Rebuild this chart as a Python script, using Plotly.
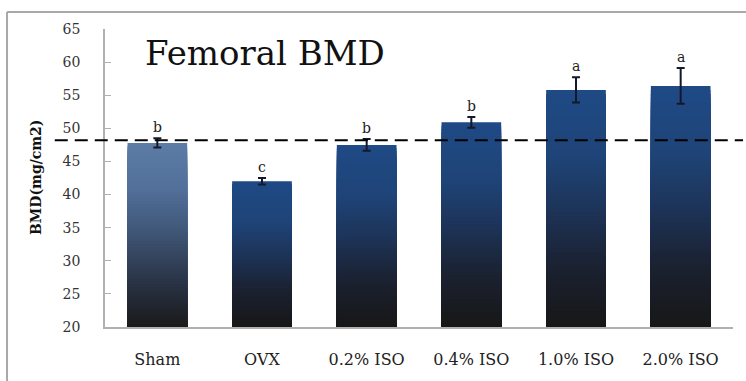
import plotly.graph_objects as go

categories = ["Sham", "OVX", "0.2% ISO", "0.4% ISO", "1.0% ISO", "2.0% ISO"]
bmd_values = [47.8, 42.0, 47.5, 50.9, 55.8, 56.4]
bmd_errors = [0.7, 0.5, 0.9, 0.8, 1.9, 2.7]
sig_letters = ["b", "c", "b", "b", "a", "a"]
reference_level = 48.2
y_ticks = [20, 25, 30, 35, 40, 45, 50, 55, 60, 65]

# gradient stops (fraction from bottom of bar, rgb)
sham_stops = [(0.0, (26, 26, 26)), (0.25, (42, 52, 70)), (0.5, (62, 84, 116)),
              (0.75, (82, 112, 154)), (1.0, (92, 123, 165))]
ovx_stops = [(0.0, (23, 23, 23)), (0.25, (27, 33, 48)), (0.5, (29, 52, 89)),
             (0.72, (31, 68, 120)), (1.0, (31, 74, 133))]
bar_stops = [sham_stops] + [ovx_stops] * 5

def interp(stops, f):
    for (f0, c0), (f1, c1) in zip(stops[:-1], stops[1:]):
        if f <= f1:
            t = (f - f0) / (f1 - f0) if f1 > f0 else 0
            return "rgb(%d,%d,%d)" % tuple(round(a + (b - a) * t) for a, b in zip(c0, c1))
    return "rgb(%d,%d,%d)" % stops[-1][1]

base = y_ticks[0]
N = 60
fig = go.Figure()
for k in range(N):
    f = 1 - k / N
    ys = [base + (v - base) * f for v in bmd_values]
    cols = [interp(st, f - 0.5 / N) for st in bar_stops]
    fig.add_trace(go.Bar(x=categories, y=ys, marker=dict(color=cols, line=dict(width=0)),
                         showlegend=False, hoverinfo="skip"))

fig.add_trace(go.Scatter(
    x=categories, y=bmd_values, mode="markers", marker=dict(opacity=0),
    error_y=dict(type="data", array=bmd_errors, color="#15182a", thickness=2, width=4),
    showlegend=False, hoverinfo="skip"))

for c, v, e, s in zip(categories, bmd_values, bmd_errors, sig_letters):
    fig.add_annotation(x=c, y=v + e, text=s, showarrow=False, yanchor="bottom", yshift=1,
                       font=dict(family="DejaVu Serif", size=14, color="#222"))

# dashed reference line
fig.add_shape(type="line", xref="paper", yref="y", x0=-0.08, x1=1.016,
              y0=reference_level, y1=reference_level,
              line=dict(color="black", width=2, dash="13px,7px"))

# outer frame (top and left edges)
fig.add_shape(type="line", xref="paper", yref="paper", x0=-0.156, x1=1.05, y0=1.057, y1=1.057,
              line=dict(color="#a8a8a8", width=2))
fig.add_shape(type="line", xref="paper", yref="paper", x0=-0.156, x1=-0.156, y0=1.057, y1=-0.2,
              line=dict(color="#a8a8a8", width=2))

fig.add_annotation(xref="paper", yref="paper", x=0.254, y=0.92, text="Femoral BMD",
                   showarrow=False, xanchor="center", yanchor="middle",
                   font=dict(family="DejaVu Serif", size=34, color="#111"))
fig.add_annotation(xref="paper", yref="paper", x=-0.11, y=0.503, text="<b>BMD(mg/cm2)</b>",
                   textangle=-90, showarrow=False, xanchor="center", yanchor="middle",
                   font=dict(family="DejaVu Serif", size=14, color="#111"))

fig.update_layout(
    width=746, height=381,
    margin=dict(l=105, r=13, t=29, b=38),
    paper_bgcolor="white", plot_bgcolor="white",
    barmode="overlay", bargap=0.43,
    font=dict(family="DejaVu Serif", color="#333"),
    hovermode=False,
)
fig.update_xaxes(showline=True, linecolor="#b0b0b0", linewidth=1.5, ticks="",
                 tickfont=dict(family="DejaVu Serif", size=16, color="#222"),
                 ticklabelstandoff=17, showgrid=False)
fig.update_yaxes(range=[20, 65], tickvals=y_ticks, showline=True, linecolor="#b0b0b0",
                 linewidth=1.5, ticks="inside", ticklen=6, tickcolor="#b0b0b0",
                 tickfont=dict(family="DejaVu Serif", size=14, color="#333"),
                 ticklabelstandoff=20, showgrid=False, zeroline=False)

fig.write_html(
    "out.html",
    config={"displayModeBar": False},
    post_script="document.body.style.margin='0';document.body.style.overflow='hidden';",
)
